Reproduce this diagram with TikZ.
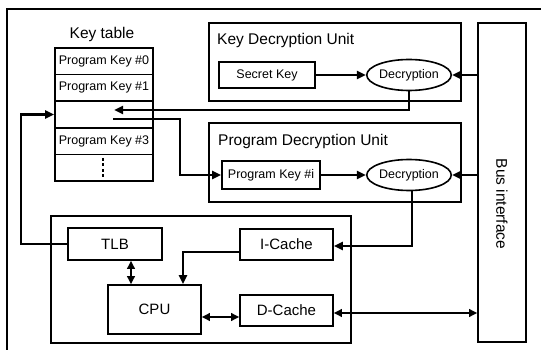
\documentclass[tikz,border=0pt]{standalone}
\usepackage{fontspec}
\setmainfont{Liberation Sans}
\usetikzlibrary{arrows.meta,shapes.geometric}

\begin{document}
\begin{tikzpicture}[x=1pt,y=-1pt,
  box/.style={draw, line width=1.6pt, inner sep=0pt},
  cell/.style={box, minimum width=98pt, minimum height=26.6pt, font=\fontsize{12.5}{14}\selectfont},
  smallbox/.style={box, font=\fontsize{12.5}{14}\selectfont},
  cachebox/.style={box, minimum width=93pt, minimum height=31pt, font=\fontsize{15}{18}\selectfont},
  cryp/.style={draw, ellipse, line width=1.6pt, minimum width=75pt, minimum height=31pt, inner sep=0pt, font=\fontsize{12.5}{14}\selectfont},
  big/.style={inner sep=0pt, font=\fontsize{15.5}{18}\selectfont},
  keypath/.style={line width=2.8pt, -{Triangle[length=9pt,width=8pt]}},
  link/.style={line width=2.2pt, {Triangle[length=8pt,width=7.5pt]}-{Triangle[length=8pt,width=7.5pt]}},
]
\useasboundingbox (0,0) rectangle (541,350);
\clip (0,0) rectangle (541,350);

% outer frame
\draw[line width=1.6pt] (7,360) -- (7,9) -- (560,9);

% key table
\node[big] (kttitle) at (102,34) {Key table};
\node[cell] (k0) at (104,61.3) {Program Key \#0};
\node[cell] (k1) at (104,87.9) {Program Key \#1};
\node[cell] (k2) at (104,114.5) {};
\node[cell] (k3) at (104,141.1) {Program Key \#3};
\node[cell] (k4) at (104,167.7) {};
\draw[line width=1.8pt, dash pattern=on 3pt off 2.5pt] (103,158) -- (103,178);

% decryption units and bus
\node[box, minimum width=252pt, minimum height=78pt] (kdu) at (335,62) {};
\node[big, anchor=west] (kdut) at (217,40) {Key Decryption Unit};
\node[box, minimum width=252pt, minimum height=79pt] (pdu) at (335,162.5) {};
\node[big, anchor=west] (pdut) at (218,141) {Program Decryption Unit};
\node[box, minimum width=48pt, minimum height=319pt] (bus) at (502,182.5) {};
\node[big, rotate=-90] (bust) at (502,204) {Bus interface};

\node[smallbox, minimum width=96pt, minimum height=26pt] (sk) at (267,75) {Secret Key};
\node[cryp] (dec1) at (409,75) {Decryption};
\node[smallbox, minimum width=98pt, minimum height=28pt] (pk) at (271,175) {Program Key \#i};
\node[cryp] (dec2) at (409,175) {Decryption};

% processor subsystem
\node[box, minimum width=300pt, minimum height=127pt] (sys) at (201,279.5) {};
\node[cachebox, minimum width=94pt, minimum height=32pt] (tlb) at (115,244) {TLB};
\node[cachebox] (ic) at (286.5,244.5) {I-Cache};
\node[cachebox, minimum height=49pt] (cpu) at (154.5,309.5) {CPU};
\node[cachebox] (dc) at (286.5,310.5) {D-Cache};

% key paths
\coordinate (kin) at (114,110);
\coordinate (kout) at (113,119);
\draw[keypath] (sk.east) -- (dec1.west);
\draw[keypath] (bus.west |- dec1) -- (dec1.east);
\draw[keypath] (dec1.south) |- (kin);
\draw[keypath] (kout) -- (180,119) |- (pk.west);
\draw[keypath] (pk.east) -- (dec2.west);
\draw[keypath] (bus.west |- dec2) -- (dec2.east);
\draw[keypath] ([xshift=3pt]dec2.south) |- ([yshift=-1.5pt]ic.east);
\draw[keypath] ([yshift=-7.5pt]ic.west) -| ([xshift=28.5pt]cpu.north);
\draw[keypath] (tlb.west) -- (21,244) |- (k2.west);

% data links
\coordinate (dcl) at ([yshift=-6.5pt]dc.west);
\coordinate (dcr) at ([yshift=-2.5pt]dc.east);
\draw[link] ([xshift=16pt]tlb.south) -- ([xshift=16pt]tlb.south |- cpu.north);
\draw[link] (dcl -| cpu.east) -- (dcl);
\draw[link] (dcr) -- (dcr -| bus.west);
\end{tikzpicture}
\end{document}
